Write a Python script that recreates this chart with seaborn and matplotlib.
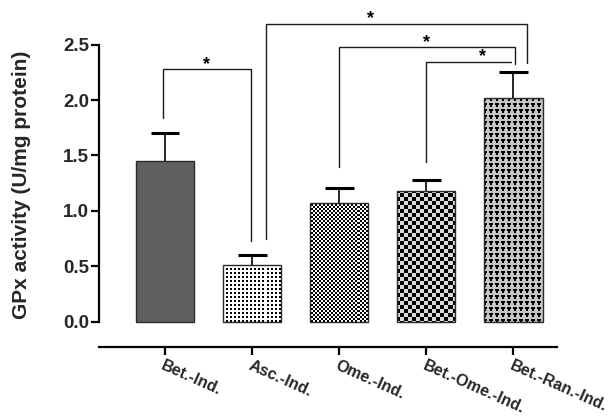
import numpy as np
import pandas as pd
import matplotlib
matplotlib.use("Agg")
import matplotlib.pyplot as plt
import seaborn as sns

# Group names, mean GPx activity and SEM (U/mg protein)
groups = ["Bet.-Ind.", "Asc.-Ind.", "Ome.-Ind.", "Bet.-Ome.-Ind.", "Bet.-Ran.-Ind."]
means = [1.45, 0.51, 1.07, 1.18, 2.02]
sems = [0.25, 0.09, 0.14, 0.10, 0.23]
yticks = [0.0, 0.5, 1.0, 1.5, 2.0, 2.5]

# Significance brackets: (left bar, right bar, label)
comparisons = [(0, 1, "*"), (1, 4, "*"), (2, 4, "*"), (3, 4, "*")]

sns.set_style("ticks")
plt.rcParams["font.family"] = ["Liberation Sans", "DejaVu Sans"]
plt.rcParams["font.weight"] = "bold"

DPI = 100
fig = plt.figure(figsize=(6.15, 4.17), dpi=DPI)
ax = fig.add_axes([0.161, 0.1686, 0.7447, 0.7906])

df = pd.DataFrame({"group": groups, "mean": means})
sns.barplot(data=df, x="group", y="mean", order=groups, color="#606060",
            width=0.667, errorbar=None, edgecolor="#2a2a2a", linewidth=1.0,
            saturation=1, ax=ax, zorder=2)

ax.set_xlim(-0.759, 4.5)
ax.set_ylim(-0.226, 2.75)

# upper-only SEM whiskers with a cap at the top end
x = np.arange(len(groups))
tops = np.array(means) + np.array(sems)
ax.vlines(x, means, tops, color="black", lw=1.2, zorder=1)
ax.hlines(tops, x - 0.165, x + 0.165, color="black", lw=2.2, zorder=1)


# --- bitmap fills for the bars -------------------------------------------
def tile_fill(h, w, tile):
    tile = np.asarray(tile, dtype=float)
    reps = (h // tile.shape[0] + 2, w // tile.shape[1] + 2, 1)
    return np.tile(tile, reps)[:h, :w]


def rgb(v):
    return np.array(matplotlib.colors.to_rgb(v))


W, B = rgb("white"), rgb("black")
G1, G2 = rgb("#d9d9d9"), rgb("#c4c4c4")

dots = [[B, B, W, W], [B, B, W, W], [W, W, W, W], [W, W, W, W]]
fine_checker = [[B, B, W, W], [B, B, W, W], [W, W, B, B], [W, W, B, B]]
c = 4
big_checker = [[B] * c + [G1] * c] * c + [[G1] * c + [B] * c] * c
hearts = [
    [G2, G2, G2, G2, G2, G2],
    [B, B, B, B, G2, G2],
    [B, B, B, B, G2, G2],
    [G2, B, B, G2, G2, G2],
    [G2, B, B, G2, G2, G2],
    [G2, G2, G2, G2, G2, G2],
]
fills = [None, dots, fine_checker, big_checker, hearts]

fig.canvas.draw()
to_data = ax.transData.inverted()
bars = [p for p in ax.patches][: len(groups)]
for bar, tile in zip(bars, fills):
    if tile is None:
        continue
    x0, y0 = bar.get_x(), bar.get_y()
    x1, y1 = x0 + bar.get_width(), y0 + bar.get_height()
    (px0, py0), (px1, py1) = ax.transData.transform([(x0, y0), (x1, y1)])
    # snap the texture to whole device pixels so it maps 1:1
    qx0, qx1 = np.floor(min(px0, px1)) - 1, np.ceil(max(px0, px1)) + 1
    qy0, qy1 = np.floor(min(py0, py1)) - 1, np.ceil(max(py0, py1)) + 1
    (dx0, dy0), (dx1, dy1) = to_data.transform([(qx0, qy0), (qx1, qy1)])
    img = tile_fill(int(qy1 - qy0), int(qx1 - qx0), tile)
    im = ax.imshow(img, extent=(dx0, dx1, dy0, dy1), origin="upper",
                   interpolation="nearest", aspect="auto", zorder=2.1)
    im.set_clip_path(bar)
    bar.set_facecolor("none")
    bar.set_zorder(2.2)

ax.set_xlim(-0.759, 4.5)
ax.set_ylim(-0.226, 2.75)

# --- significance brackets -----------------------------------------------
bracket_y = [2.28, 2.687, 2.476, 2.344]
left_drop = [1.84, 0.746, 1.40, 1.444]
right_drop = [0.73, 2.335, 2.326, 2.341]
x_left = [-0.02, 1.16, 2.0, 2.99]
x_right = [0.99, 4.16, 4.02, 3.97]
star_x = [0.48, 2.355, 3.0, 3.64]
for (i, j, lab), yb, yl, yr, xl, xr, sx in zip(comparisons, bracket_y, left_drop,
                                               right_drop, x_left, x_right, star_x):
    ax.plot([xl, xl, xr, xr], [yl, yb, yb, yr], color="#1a1a1a", lw=1.0,
            solid_joinstyle="miter", clip_on=False, zorder=3)
    ax.text(sx, yb + 0.045, lab, ha="center", va="center", fontsize=13,
            fontweight="bold", color="black")

# --- axes styling ---------------------------------------------------------
for side in ("top", "right"):
    ax.spines[side].set_visible(False)
for side in ("left", "bottom"):
    ax.spines[side].set_linewidth(1.6)
    ax.spines[side].set_color("black")
ax.spines["left"].set_bounds(0, 2.5)

ax.set_yticks(yticks)
ax.set_yticklabels([f"{t:.1f}" for t in yticks], fontsize=13.5, fontweight="bold")
ax.tick_params(axis="y", length=6, width=1.6, pad=1, color="black")
ax.tick_params(axis="x", length=6, width=1.6, pad=2, color="black")
ax.set_xticks(x)
ax.set_xticklabels(groups, rotation=-24, ha="left", va="top",
                   rotation_mode="anchor", fontsize=11.5, fontweight="bold")
ax.set_xlabel("")
ax.set_ylabel("GPx activity (U/mg protein)", fontsize=15, fontweight="bold")
ax.yaxis.set_label_coords(-0.1485, 0.492)

fig.savefig("out.png", dpi=DPI)
